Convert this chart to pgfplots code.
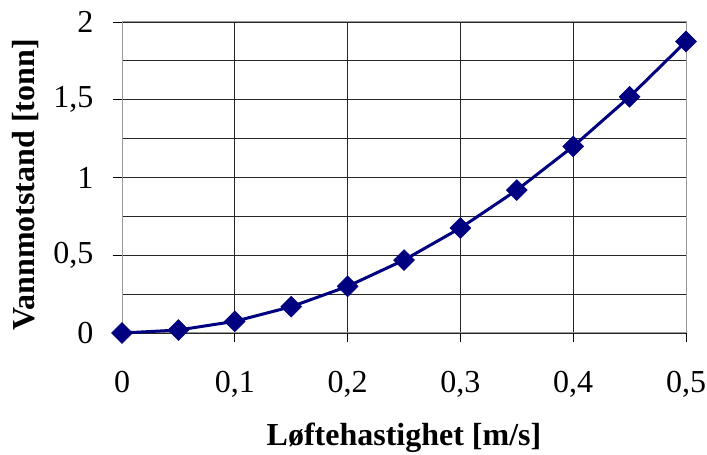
\documentclass[border=0pt]{standalone}
\usepackage{pgfplots}
\pgfplotsset{compat=1.18}
\usepackage{fontspec}
\setmainfont{Liberation Serif}
\definecolor{navyline}{RGB}{0,0,128}
\begin{document}
\begin{tikzpicture}[x=1pt,y=1pt]
\path[use as bounding box] (0,0) rectangle (707,455);
\begin{axis}[
  at={(122pt,122pt)}, anchor=south west,
  scale only axis, width=564pt, height=311pt,
  xmin=0, xmax=0.5, ymin=0, ymax=2,
  xtick={0,0.1,0.2,0.3,0.4,0.5},
  ytick={0,0.5,1,1.5,2},
  minor ytick={0.25,0.75,1.25,1.75},
  ymajorgrids, yminorgrids, xmajorgrids,
  grid style={black!85, line width=0.9pt},
  minor grid style={black!85, line width=0.9pt},
  axis line style={draw=gray!80, line width=1pt},
  tick align=outside, major tick length=9pt, minor tick length=0pt,
  tick style={black, line width=0.9pt},
  xtick pos=bottom, ytick pos=left,
  /pgf/number format/use comma,
  /pgf/number format/assume math mode=true,
  ticklabel style={font=\fontsize{32}{36}\selectfont},
  xticklabel style={yshift=-26pt},
  yticklabel style={xshift=-16pt},
  xlabel={\textbf{Løftehastighet [m/s]}},
  ylabel={\textbf{Vannmotstand [tonn]}},
  label style={font=\fontsize{32}{36}\selectfont},
  xlabel style={at={(axis description cs:0.5,0)}, anchor=base, yshift=-112pt},
  ylabel style={at={(axis description cs:-0.156,0.476)}, anchor=base},
  clip=false,
]
\addplot[navyline, line width=3pt, mark=square*, mark size=7.4pt, mark options={fill=navyline, draw=navyline, line width=0.5pt, rotate=45}]
coordinates {
(0,0) (0.05,0.019) (0.1,0.075) (0.15,0.169) (0.2,0.3) (0.25,0.469)
(0.3,0.675) (0.35,0.919) (0.4,1.2) (0.45,1.519) (0.5,1.875)
};
\end{axis}
\end{tikzpicture}
\end{document}
